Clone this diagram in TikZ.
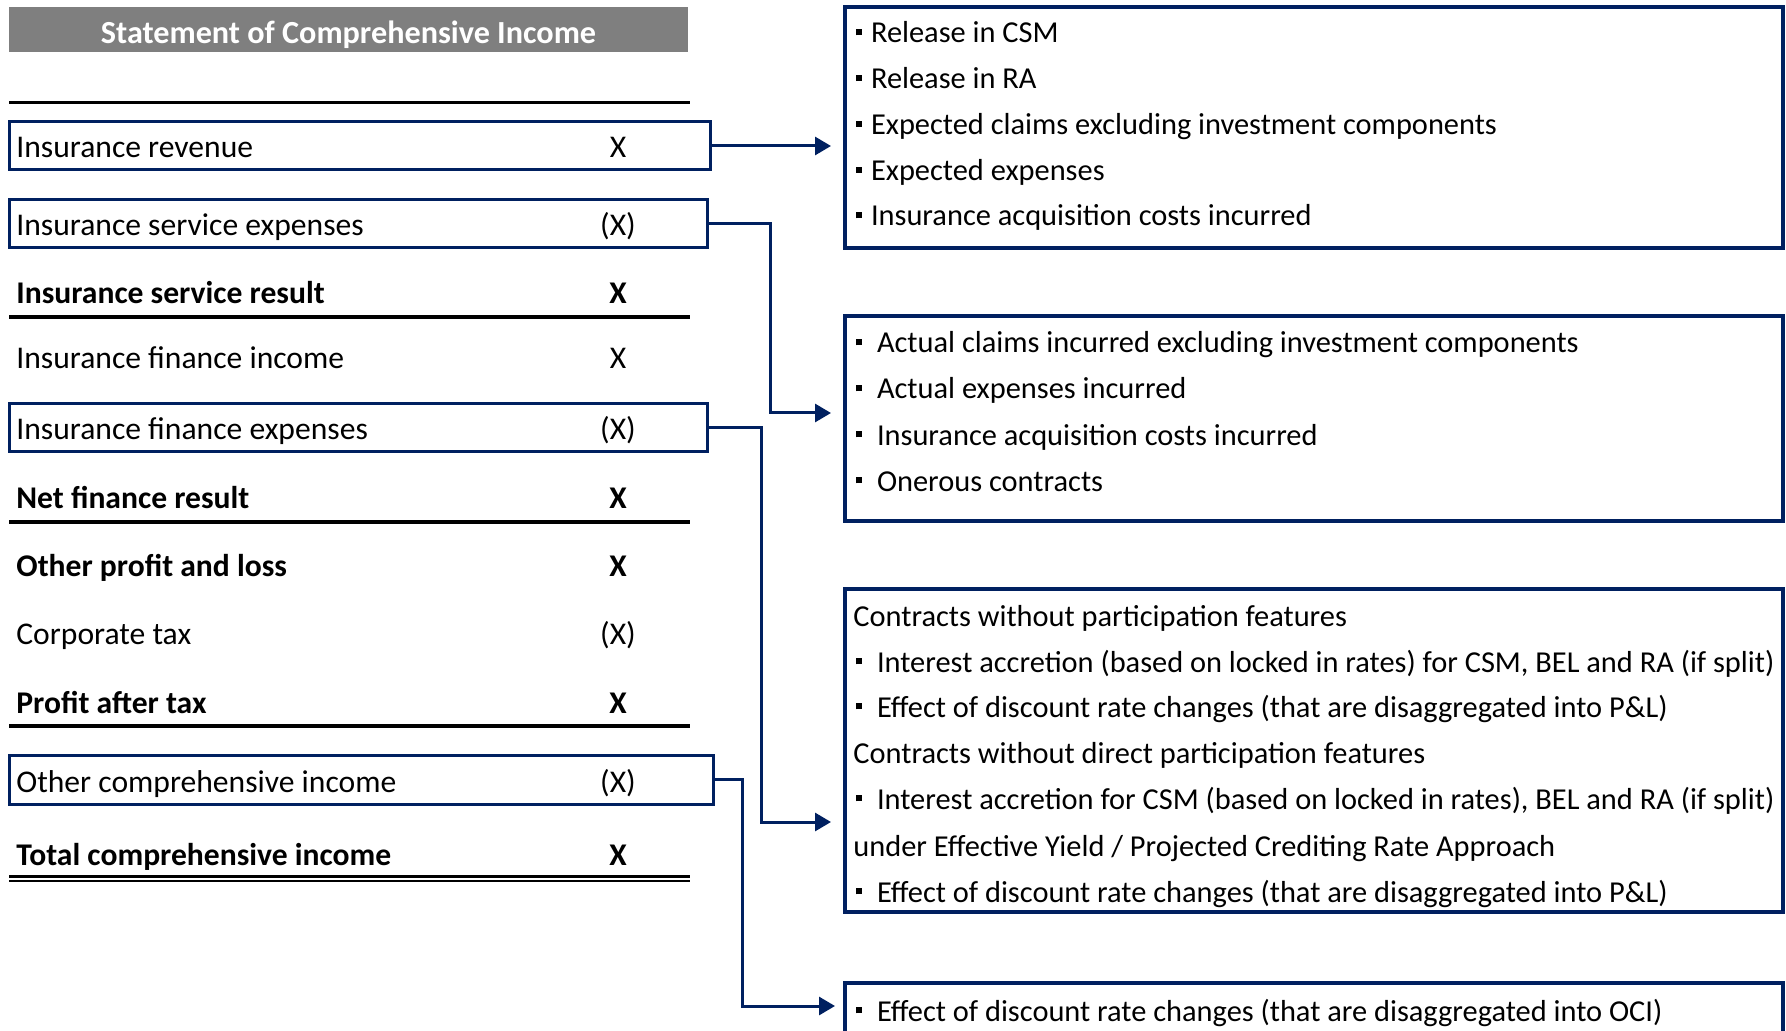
\documentclass[tikz,border=0pt]{standalone}
\usepackage{fontspec}
\setmainfont{Carlito}
\usetikzlibrary{arrows.meta}
\definecolor{navy}{HTML}{002060}
\definecolor{titlegray}{HTML}{7F7F7F}
\newcommand\rowsize{\fontsize{15.8}{19}\selectfont}
\newcommand\listsize{\fontsize{15.2}{18}\selectfont}
\newcommand\sqbul{\rule[3.8pt]{3pt}{3pt}}
\begin{document}
\begin{tikzpicture}
  [x=0.5pt,y=-0.5pt,
   rowbox/.style={draw=navy,line width=1.5pt,inner sep=0pt,minimum height=24pt},
   lineitem/.style={anchor=west,inner sep=0pt,font=\rowsize,text height=13pt,text depth=2pt},
   total/.style={lineitem,font=\rowsize\bfseries},
   amount/.style={inner sep=0pt,font=\rowsize,text height=13pt,text depth=2pt},
   listbox/.style={draw=navy,line width=2pt,inner sep=0pt,minimum width=469pt},
   entry/.style={anchor=west,inner sep=0pt,font=\listsize,text height=13pt,text depth=2pt},
   flow/.style={draw=navy,line width=1.5pt,-{Triangle[length=8pt,width=9pt]}},
   rule/.style={line width=1.6pt}]
\useasboundingbox (0,0) rectangle (1786,1031);
% statement of comprehensive income
\node[fill=titlegray,minimum width=339.5pt,minimum height=22.5pt,inner sep=0pt] (title) at (348.5,29.5) {};
\node[amount,text=white,font=\fontsize{16.1}{19}\selectfont\bfseries] (titleT) at (title.center |- 0,33)
      {Statement of Comprehensive Income};
\draw[rule] (9,102.5) -- (690,102.5);
%
\node[rowbox,minimum width=350.5pt] (rev) at (359.5,146) {};
\node[lineitem] (revT) at (16,147) {Insurance revenue};
\node[amount] (revA) at (618,147) {X};
\node[rowbox,minimum width=349pt] (ise) at (358,224) {};
\node[lineitem] (iseT) at (16,225) {Insurance service expenses};
\node[amount] (iseA) at (618,225) {(X)};
\node[total] (isrT) at (16,293) {Insurance service result};
\node[amount,font=\rowsize\bfseries] (isrA) at (618,293) {X};
\draw[rule] (9,317) -- (690,317);
\node[lineitem] (ifiT) at (16,358) {Insurance finance income};
\node[amount] (ifiA) at (618,358) {X};
\node[rowbox,minimum width=349pt] (ife) at (358,428) {};
\node[lineitem] (ifeT) at (16,429) {Insurance finance expenses};
\node[amount] (ifeA) at (618,429) {(X)};
\node[total] (nfrT) at (16,498) {Net finance result};
\node[amount,font=\rowsize\bfseries] (nfrA) at (618,498) {X};
\draw[rule] (9,522) -- (690,522);
\node[total] (oplT) at (16,565) {Other profit and loss};
\node[amount,font=\rowsize\bfseries] (oplA) at (618,565) {X};
\node[lineitem] (ctxT) at (16,633) {Corporate tax};
\node[amount] (ctxA) at (618,633) {(X)};
\node[total] (patT) at (16,702) {Profit after tax};
\node[amount,font=\rowsize\bfseries] (patA) at (618,702) {X};
\draw[rule] (9,726) -- (690,726);
\node[rowbox,minimum width=352pt,minimum height=24.5pt] (oci) at (361,779.5) {};
\node[lineitem] (ociT) at (16,781) {Other comprehensive income};
\node[amount] (ociA) at (618,781) {(X)};
\node[total] (tciT) at (16,854) {Total comprehensive income};
\node[amount,font=\rowsize\bfseries] (tciA) at (618,854) {X};
\draw[rule] (9,876.5) -- (690,876.5);
\draw[line width=1pt] (9,880.5) -- (690,880.5);
%
% what each line contains
\node[listbox,minimum height=120.5pt] (box1) at (1314,127.5) {};
\foreach \t [count=\i from 0] in {Release in CSM, Release in RA,
    Expected claims excluding investment components, Expected expenses,
    Insurance acquisition costs incurred}
  \node[entry] (box1-\i) at (856,{32+45.75*\i}) {\sqbul\hspace{4.3pt}\t};
\node[listbox,minimum height=102.5pt] (box2) at (1314,418.5) {};
\foreach \t [count=\i from 0] in {Actual claims incurred excluding investment components,
    Actual expenses incurred, Insurance acquisition costs incurred, Onerous contracts}
  \node[entry] (box2-\i) at (856,{342+46*\i}) {\sqbul\hspace{7.3pt}\t};
\node[listbox,minimum height=161.5pt] (box3) at (1314,750.5) {};
\node[entry] (box3-0) at (853,615) {Contracts without participation features};
\node[entry] (box3-1) at (856,661) {\sqbul\hspace{7.3pt}Interest accretion (based on locked in rates) for CSM, BEL and RA (if split)};
\node[entry] (box3-2) at (856,706) {\sqbul\hspace{7.3pt}Effect of discount rate changes (that are disaggregated into P\&L)};
\node[entry] (box3-3) at (853,752) {Contracts without direct participation features};
\node[entry] (box3-4) at (856,798) {\sqbul\hspace{7.3pt}Interest accretion for CSM (based on locked in rates), BEL and RA (if split)};
\node[entry] (box3-5) at (853,845) {under Effective Yield / Projected Crediting Rate Approach};
\node[entry] (box3-6) at (856,891) {\sqbul\hspace{7.3pt}Effect of discount rate changes (that are disaggregated into P\&L)};
\node[listbox,minimum height=38.5pt] (box4) at (1314,1021.5) {};
\node[entry] (box4-0) at (856,1010) {\sqbul\hspace{7.3pt}Effect of discount rate changes (that are disaggregated into OCI)};
%
\coordinate (in2) at (831,413);
\coordinate (in3) at (831,822);
\coordinate (in4) at (835,1006);
\draw[flow] (rev.east) -- ([xshift=-6pt]rev.east -| box1.west);
\draw[flow] (ise.east) -- ++(62,0) |- (in2);
\draw[flow] (ife.east) -- ++(53,0) |- (in3);
\draw[flow] (oci.east) -- ++(28,0) |- (in4);
\end{tikzpicture}
\end{document}
